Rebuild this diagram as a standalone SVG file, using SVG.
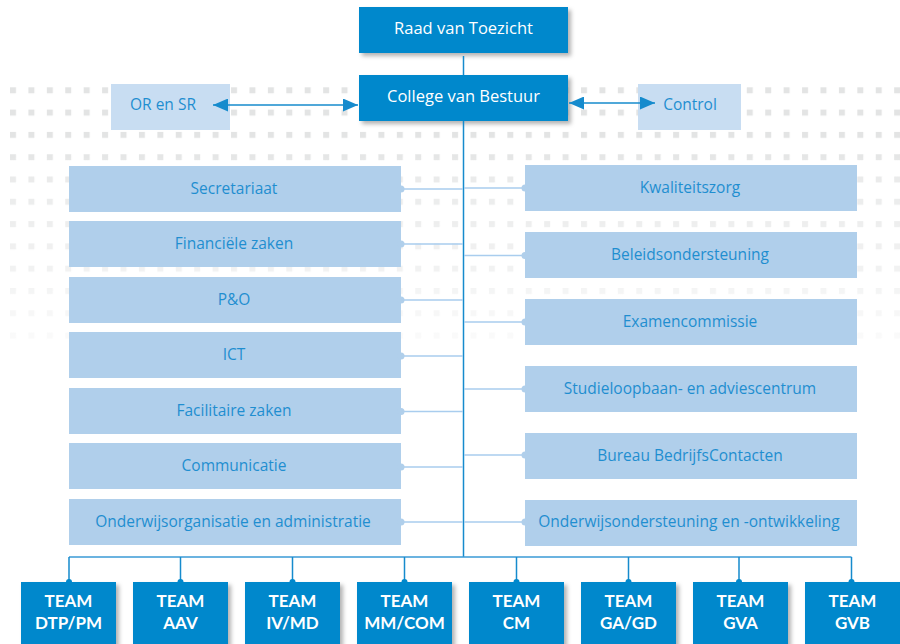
<svg xmlns="http://www.w3.org/2000/svg" width="900" height="644" viewBox="0 0 900 644">
<defs>
  <pattern id="dots" patternUnits="userSpaceOnUse" x="10" y="87.3" width="18.42" height="22.3">
    <rect x="0" y="0" width="6" height="6" fill="#e3e4e4"/>
  </pattern>
  <linearGradient id="fade" gradientUnits="userSpaceOnUse" x1="0" y1="150" x2="0" y2="340">
    <stop offset="0" stop-color="#fff" stop-opacity="1"/>
    <stop offset="0.12" stop-color="#fff" stop-opacity="0.75"/>
    <stop offset="0.6" stop-color="#fff" stop-opacity="0.5"/>
    <stop offset="1" stop-color="#fff" stop-opacity="0.17"/>
  </linearGradient>
  <mask id="fadeMask" maskUnits="userSpaceOnUse" x="0" y="80" width="900" height="270">
    <rect x="0" y="80" width="900" height="270" fill="url(#fade)"/>
  </mask>
  <filter id="shadow" x="-10%" y="-10%" width="130%" height="140%">
    <feDropShadow dx="3" dy="3" stdDeviation="2" flood-color="#000" flood-opacity="0.3"/>
  </filter>
  <marker id="arrow" viewBox="0 0 15 13" refX="15" refY="6.5" markerWidth="15" markerHeight="13" markerUnits="userSpaceOnUse" orient="auto-start-reverse">
    <path d="M0,0 L15,6.5 L0,13 Z" fill="#168bcd"/>
  </marker>
  <style>
    .dark { fill: #0088cc; filter: url(#shadow); }
    .side { fill: #c8ddf2; }
    .unit { fill: #b0cfeb; }
    .wt { font-family: "Open Sans", "Noto Sans", sans-serif; font-size: 16.5px; fill: #ffffff; text-anchor: middle; }
    .bt { font-family: "Open Sans", "Noto Sans", sans-serif; font-size: 15.5px; fill: #1f8ed0; text-anchor: middle; }
    .tt { font-family: Lato, "Open Sans", sans-serif; font-size: 17px; font-weight: bold; fill: #ffffff; text-anchor: middle; }
    .main { stroke: #168bcd; stroke-width: 1.5; fill: none; }
    .branch { stroke: #a9cdee; stroke-width: 1.5; fill: none; }
    .bus { stroke: #3a9ad6; stroke-width: 1.5; fill: none; }
    .udot { fill: #b0cfeb; }
    .tdot { fill: #0088cc; }
  </style>
</defs>

<rect x="0" y="84" width="900" height="260" fill="url(#dots)" mask="url(#fadeMask)"/>

<g id="raad"><rect class="dark" x="359" y="7" width="209" height="46"/><text class="wt" x="463.5" y="34">Raad van Toezicht</text></g>
<g id="college"><rect class="dark" x="359" y="75" width="209" height="46"/><text class="wt" x="463.5" y="102">College van Bestuur</text></g>
<g id="or-sr"><rect class="side" x="111" y="84" width="119" height="46"/><text class="bt" x="163" y="110">OR en SR</text></g>
<g id="control"><rect class="side" x="638" y="84" width="103" height="46"/><text class="bt" x="690" y="110">Control</text></g>

<g id="secretariaat"><rect class="unit" x="69" y="166" width="332" height="46"/><text class="bt" x="234" y="194">Secretariaat</text></g>
<g id="financien"><rect class="unit" x="69" y="221" width="332" height="46"/><text class="bt" x="234" y="249">Financiële zaken</text></g>
<g id="po"><rect class="unit" x="69" y="277" width="332" height="46"/><text class="bt" x="234" y="305">P&amp;O</text></g>
<g id="ict"><rect class="unit" x="69" y="332" width="332" height="46"/><text class="bt" x="234" y="360">ICT</text></g>
<g id="facilitaire"><rect class="unit" x="69" y="388" width="332" height="46"/><text class="bt" x="234" y="416">Facilitaire zaken</text></g>
<g id="communicatie"><rect class="unit" x="69" y="443" width="332" height="46"/><text class="bt" x="234" y="471">Communicatie</text></g>
<g id="onderwijsorganisatie"><rect class="unit" x="69" y="499" width="332" height="46"/><text class="bt" x="233" y="527">Onderwijsorganisatie en administratie</text></g>

<g id="kwaliteitszorg"><rect class="unit" x="525" y="165" width="332" height="46"/><text class="bt" x="690" y="193">Kwaliteitszorg</text></g>
<g id="beleidsondersteuning"><rect class="unit" x="525" y="232" width="332" height="46"/><text class="bt" x="690" y="260">Beleidsondersteuning</text></g>
<g id="examencommissie"><rect class="unit" x="525" y="299" width="332" height="46"/><text class="bt" x="690" y="327">Examencommissie</text></g>
<g id="studieloopbaan"><rect class="unit" x="525" y="366" width="332" height="46"/><text class="bt" x="690" y="394">Studieloopbaan- en adviescentrum</text></g>
<g id="bureau"><rect class="unit" x="525" y="433" width="332" height="46"/><text class="bt" x="690" y="461">Bureau BedrijfsContacten</text></g>
<g id="onderwijsondersteuning"><rect class="unit" x="525" y="500" width="332" height="46"/><text class="bt" x="689" y="527">Onderwijsondersteuning en -ontwikkeling</text></g>

<g id="team-dtp"><rect class="dark" x="21" y="582" width="95" height="70"/><text class="tt" x="68.5" y="607">TEAM</text><text class="tt" x="68.5" y="629">DTP/PM</text></g>
<g id="team-aav"><rect class="dark" x="133" y="582" width="95" height="70"/><text class="tt" x="180.5" y="607">TEAM</text><text class="tt" x="180.5" y="629">AAV</text></g>
<g id="team-iv"><rect class="dark" x="245" y="582" width="95" height="70"/><text class="tt" x="292.5" y="607">TEAM</text><text class="tt" x="292.5" y="629">IV/MD</text></g>
<g id="team-mm"><rect class="dark" x="357" y="582" width="95" height="70"/><text class="tt" x="404.5" y="607">TEAM</text><text class="tt" x="404.5" y="629">MM/COM</text></g>
<g id="team-cm"><rect class="dark" x="469" y="582" width="95" height="70"/><text class="tt" x="516.5" y="607">TEAM</text><text class="tt" x="516.5" y="629">CM</text></g>
<g id="team-ga"><rect class="dark" x="581" y="582" width="95" height="70"/><text class="tt" x="628.5" y="607">TEAM</text><text class="tt" x="628.5" y="629">GA/GD</text></g>
<g id="team-gva"><rect class="dark" x="693" y="582" width="95" height="70"/><text class="tt" x="740.5" y="607">TEAM</text><text class="tt" x="740.5" y="629">GVA</text></g>
<g id="team-gvb"><rect class="dark" x="805" y="582" width="95" height="70"/><text class="tt" x="852.5" y="607">TEAM</text><text class="tt" x="852.5" y="629">GVB</text></g>

<g id="connectors">
  <line class="main" x1="463.5" y1="56" x2="463.5" y2="75"/>
  <line class="main" x1="463.5" y1="121" x2="463.5" y2="557"/>
  <line class="main" x1="213" y1="105" x2="358" y2="105" marker-start="url(#arrow)" marker-end="url(#arrow)"/>
  <line class="main" x1="569" y1="103" x2="655" y2="103" marker-start="url(#arrow)" marker-end="url(#arrow)"/>
  <path class="branch" d="M401,189 H463 M401,244 H463 M401,300 H463 M401,356 H463 M401,411.5 H463 M401,467 H463 M401,522 H463"/>
  <path class="branch" d="M464,188 H525 M464,255.5 H525 M464,322 H525 M464,389 H525 M464,455 H525 M464,522 H525"/>
  <g class="udot">
    <circle cx="401" cy="189" r="3.5"/><circle cx="401" cy="244" r="3.5"/><circle cx="401" cy="300" r="3.5"/>
    <circle cx="401" cy="356" r="3.5"/><circle cx="401" cy="411.5" r="3.5"/><circle cx="401" cy="467" r="3.5"/>
    <circle cx="401" cy="522" r="3.5"/>
    <circle cx="525" cy="188" r="3.5"/><circle cx="525" cy="255.5" r="3.5"/><circle cx="525" cy="322" r="3.5"/>
    <circle cx="525" cy="389" r="3.5"/><circle cx="525" cy="455" r="3.5"/><circle cx="525" cy="522" r="3.5"/>
  </g>
  <line class="bus" x1="69" y1="557" x2="851.5" y2="557"/>
  <path class="main" d="M69,557 V582 M180.5,557 V582 M292.5,557 V582 M404.5,557 V582 M516.5,557 V582 M628.5,557 V582 M739,557 V582 M851.5,557 V582"/>
  <g class="tdot">
    <circle cx="69" cy="582" r="3"/><circle cx="180.5" cy="582" r="3"/><circle cx="292.5" cy="582" r="3"/>
    <circle cx="404.5" cy="582" r="3"/><circle cx="516.5" cy="582" r="3"/><circle cx="628.5" cy="582" r="3"/>
    <circle cx="739" cy="582" r="3"/><circle cx="851.5" cy="582" r="3"/>
  </g>
</g>
</svg>
